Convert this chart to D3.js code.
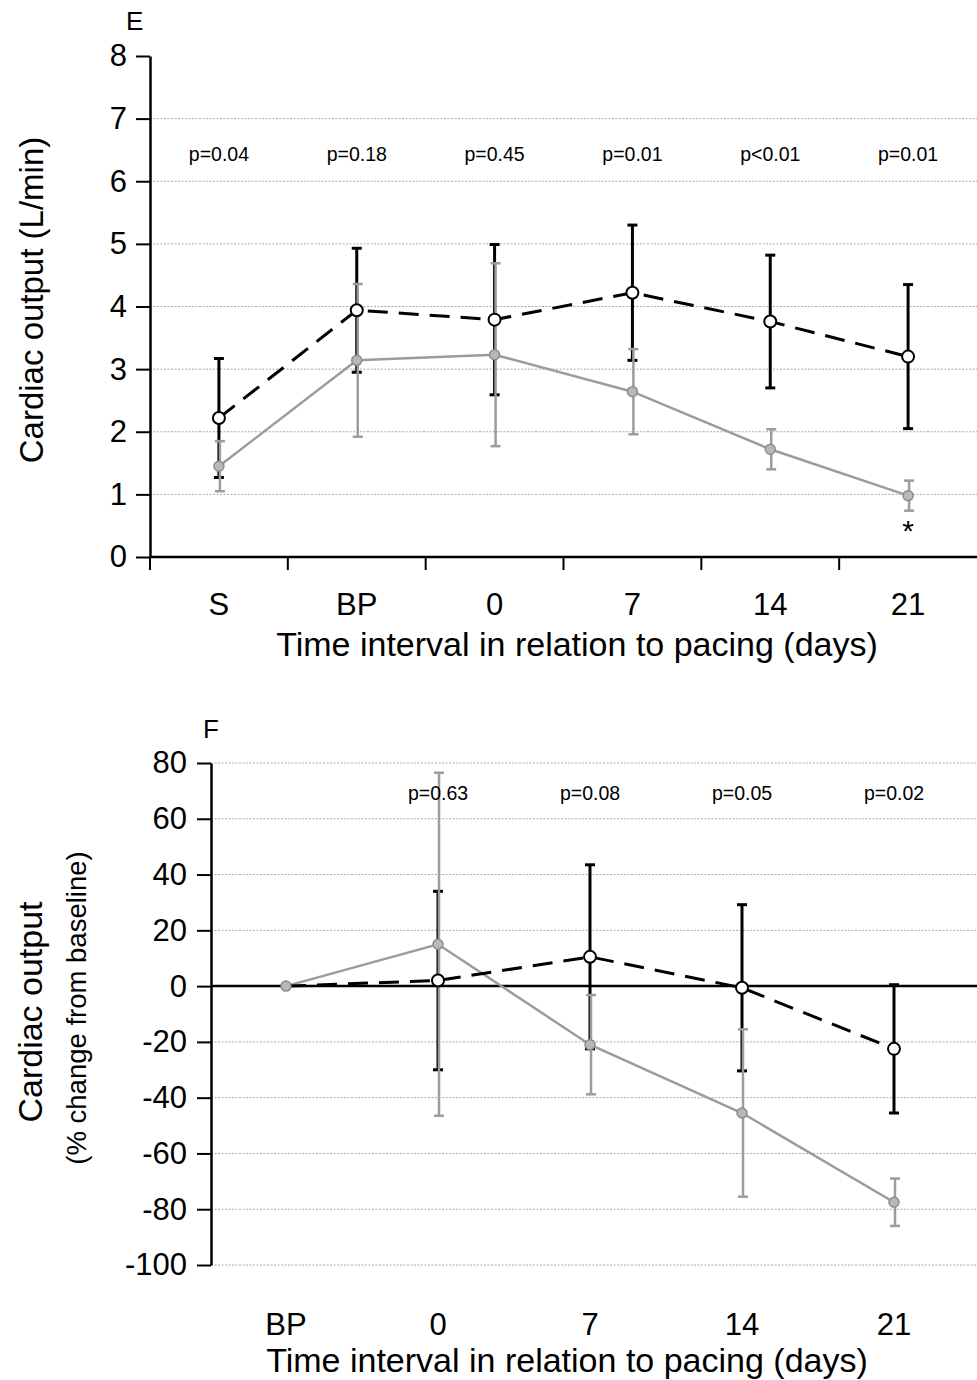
<!DOCTYPE html>
<html>
<head>
<meta charset="utf-8">
<script src="https://cdn.jsdelivr.net/npm/d3@7"></script>
<style>
  html, body { margin: 0; padding: 0; background: #fff; }
  svg { display: block; }
  text { font-family: "Liberation Sans", Arial, Helvetica, sans-serif; fill: #000; }
</style>
</head>
<body>
<svg id="chart" width="977" height="1380"></svg>
<script>
// ---------- Panel E data (cardiac output, L/min) ----------
const catsE = ["S", "BP", "0", "7", "14", "21"];
const blackMeanE = [2.22, 3.94, 3.79, 4.22, 3.76, 3.20];
const blackSdE   = [0.95, 0.99, 1.20, 1.08, 1.06, 1.15];
const grayMeanE  = [1.45, 3.14, 3.23, 2.64, 1.72, 0.98];
const graySdE    = [0.40, 1.22, 1.46, 0.68, 0.32, 0.24];
const pValuesE   = ["p=0.04", "p=0.18", "p=0.45", "p=0.01", "p<0.01", "p=0.01"];
const yTicksE    = [0, 1, 2, 3, 4, 5, 6, 7, 8];
const gridE      = [1, 2, 3, 4, 5, 6, 7];
const starCatE   = "21";

// ---------- Panel F data (% change from baseline) ----------
const catsF = ["BP", "0", "7", "14", "21"];
const blackMeanF = [0, 2, 10.5, -0.6, -22.5];
const blackSdF   = [0, 32, 33, 29.8, 23];
const grayMeanF  = [0, 15, -21, -45.5, -77.5];
const graySdF    = [0, 61.5, 17.8, 30, 8.5];
const pValuesF   = ["", "p=0.63", "p=0.08", "p=0.05", "p=0.02"];
const yTicksF    = [80, 60, 40, 20, 0, -20, -40, -60, -80, -100];
const gridF      = [80, 60, 40, 20, -20, -40, -60, -80, -100];

const xTitle = "Time interval in relation to pacing (days)";

const svg = d3.select("#chart");
const GRAY = "#9c9c9c";
const FONT = "\"Liberation Sans\", Arial, Helvetica, sans-serif";

function drawPanel(cfg) {
  const g = svg.append("g");
  const x = d3.scaleBand().domain(cfg.cats).range([cfg.x0, cfg.x1]);
  const y = d3.scaleLinear().domain(cfg.yDomain).range([cfg.yBottom, cfg.yTop]);
  const cx = d => x(d) + x.bandwidth() / 2;

  // gridlines
  g.append("g").selectAll("line").data(cfg.grid).join("line")
    .attr("x1", cfg.axisX).attr("x2", 977)
    .attr("y1", d => y(d)).attr("y2", d => y(d))
    .attr("stroke", "#a8a8a8").attr("stroke-width", 1)
    .attr("stroke-dasharray", "2,1.5");

  // zero line (panel F)
  if (cfg.zeroLine) {
    g.append("line")
      .attr("x1", cfg.axisX).attr("x2", 977)
      .attr("y1", y(0)).attr("y2", y(0))
      .attr("stroke", "#000").attr("stroke-width", 2.5);
  }

  // y axis
  const yAxis = d3.axisLeft(y).tickValues(cfg.yTicks).tickSize(14).tickSizeOuter(0).tickPadding(cfg.yTickPad)
    .tickFormat(d => String(d));
  const ya = g.append("g").attr("transform", `translate(${cfg.axisX},0)`).call(yAxis);
  ya.select(".domain").attr("stroke-width", 2.5);
  ya.selectAll(".tick line").attr("stroke-width", 2);
  ya.selectAll(".tick text").attr("font-size", 31).attr("font-family", FONT);

  // x axis
  const xAxis = d3.axisBottom(x).tickSize(0).tickPadding(cfg.xTickPad);
  const xa = g.append("g").attr("transform", `translate(0,${cfg.yBottom})`).call(xAxis);
  xa.selectAll(".tick text").attr("font-size", 31).attr("font-family", FONT);
  if (cfg.xAxisLine) {
    xa.select(".domain").attr("stroke-width", 2.5).attr("d", `M${cfg.axisX},0H977`);
    g.append("g").selectAll("line").data(cfg.cats).join("line")
      .attr("x1", d => x(d)).attr("x2", d => x(d))
      .attr("y1", cfg.yBottom).attr("y2", cfg.yBottom + 13)
      .attr("stroke", "#000").attr("stroke-width", 2);
  } else {
    xa.select(".domain").remove();
  }

  // data rows
  const rows = cfg.cats.map((c, i) => ({
    c, bm: cfg.blackMean[i], bs: cfg.blackSd[i], gm: cfg.grayMean[i], gs: cfg.graySd[i], p: cfg.pValues[i]
  }));

  // black error bars
  const capW = 5;
  const bErr = g.append("g").selectAll("g").data(rows.filter(r => r.bs > 0)).join("g");
  bErr.append("line").attr("x1", d => cx(d.c)).attr("x2", d => cx(d.c))
    .attr("y1", d => y(d.bm + d.bs)).attr("y2", d => y(d.bm - d.bs))
    .attr("stroke", "#000").attr("stroke-width", 3);
  [1, -1].forEach(s => {
    bErr.append("line").attr("x1", d => cx(d.c) - capW).attr("x2", d => cx(d.c) + capW)
      .attr("y1", d => y(d.bm + s * d.bs)).attr("y2", d => y(d.bm + s * d.bs))
      .attr("stroke", "#000").attr("stroke-width", 3);
  });

  // gray error bars (drawn over the black ones)
  const gErr = g.append("g").selectAll("g").data(rows.filter(r => r.gs > 0)).join("g");
  gErr.append("line").attr("x1", d => cx(d.c) + 1).attr("x2", d => cx(d.c) + 1)
    .attr("y1", d => y(d.gm + d.gs)).attr("y2", d => y(d.gm - d.gs))
    .attr("stroke", GRAY).attr("stroke-width", 2.5);
  [1, -1].forEach(s => {
    gErr.append("line").attr("x1", d => cx(d.c) + 1 - capW).attr("x2", d => cx(d.c) + 1 + capW)
      .attr("y1", d => y(d.gm + s * d.gs)).attr("y2", d => y(d.gm + s * d.gs))
      .attr("stroke", GRAY).attr("stroke-width", 2.5);
  });

  // gray line
  g.append("path").datum(rows)
    .attr("d", d3.line().x(d => cx(d.c)).y(d => y(d.gm)))
    .attr("fill", "none").attr("stroke", GRAY).attr("stroke-width", 2.5);

  // dashed black line
  g.append("path").datum(rows)
    .attr("d", d3.line().x(d => cx(d.c)).y(d => y(d.bm)))
    .attr("fill", "none").attr("stroke", "#000").attr("stroke-width", 3)
    .attr("stroke-dasharray", "20,11");

  // gray markers
  g.append("g").selectAll("circle").data(rows).join("circle")
    .attr("cx", d => cx(d.c)).attr("cy", d => y(d.gm)).attr("r", 5)
    .attr("fill", "#b8b8b8").attr("stroke", "#8c8c8c").attr("stroke-width", 1.5);

  // black open circles
  g.append("g").selectAll("circle").data(rows.filter(r => r.bs > 0)).join("circle")
    .attr("cx", d => cx(d.c)).attr("cy", d => y(d.bm)).attr("r", 6)
    .attr("fill", "#fff").attr("stroke", "#000").attr("stroke-width", 2);

  // p-values
  g.append("g").selectAll("text").data(rows.filter(r => r.p)).join("text")
    .attr("x", d => cx(d.c)).attr("y", cfg.pY)
    .attr("text-anchor", "middle").attr("font-size", 19.5).text(d => d.p);

  // asterisk
  if (cfg.star) {
    const r = rows.find(r => r.c === cfg.star);
    g.append("text").attr("x", cx(r.c)).attr("y", y(r.gm - r.gs) + 30)
      .attr("text-anchor", "middle").attr("font-size", 30).text("*");
  }

  // x title
  g.append("text").attr("x", cfg.xTitleX).attr("y", cfg.xTitleY)
    .attr("text-anchor", "middle").attr("font-size", 34).text(xTitle);

  // panel letter
  g.append("text").attr("x", cfg.letterX).attr("y", cfg.letterY)
    .attr("font-size", 26).text(cfg.letter);

  return { x, y, g };
}

// Panel E
const E = drawPanel({
  cats: catsE, x0: 150, x1: 977, axisX: 150,
  yDomain: [0, 8], yBottom: 557, yTop: 56,
  yTicks: yTicksE, grid: gridE, zeroLine: false, xAxisLine: true,
  yTickPad: 9, xTickPad: 36,
  blackMean: blackMeanE, blackSd: blackSdE, grayMean: grayMeanE, graySd: graySdE,
  pValues: pValuesE, pY: 161, star: starCatE,
  xTitleX: 577, xTitleY: 656, letter: "E", letterX: 126, letterY: 30
});
E.g.append("text").attr("transform", "translate(43,300) rotate(-90)")
  .attr("text-anchor", "middle").attr("font-size", 33).text("Cardiac output (L/min)");

// Panel F
const F = drawPanel({
  cats: catsF, x0: 210, x1: 970, axisX: 211,
  yDomain: [-100, 80], yBottom: 1265, yTop: 763,
  yTicks: yTicksF, grid: gridF, zeroLine: true, xAxisLine: false,
  yTickPad: 10, xTickPad: 48,
  blackMean: blackMeanF, blackSd: blackSdF, grayMean: grayMeanF, graySd: graySdF,
  pValues: pValuesF, pY: 800, star: null,
  xTitleX: 567, xTitleY: 1372, letter: "F", letterX: 203, letterY: 738
});
F.g.append("text").attr("transform", "translate(42,1012) rotate(-90)")
  .attr("text-anchor", "middle").attr("font-size", 34).text("Cardiac output");
F.g.append("text").attr("transform", "translate(86,1008) rotate(-90)")
  .attr("text-anchor", "middle").attr("font-size", 27.5).text("(% change from baseline)");
</script>
</body>
</html>
